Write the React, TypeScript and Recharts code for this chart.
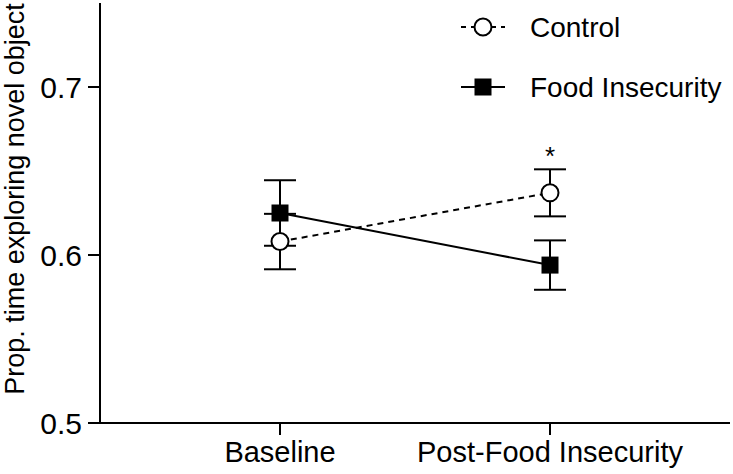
import React from "react";
import {
  LineChart,
  Line,
  XAxis,
  YAxis,
  ErrorBar,
  LabelList,
  Label,
} from "recharts";

// values
const categories = ["Baseline", "Post-Food Insecurity"];
const controlMean = [0.608, 0.637];
const controlSem = [0.0165, 0.014];
const foodMean = [0.625, 0.594];
const foodSem = [0.0195, 0.0147];
const significance = ["", "*"];
const yTicks = [0.5, 0.6, 0.7];

const FONT = "'Liberation Sans', Arial, Helvetica, sans-serif";

const data = categories.map((name, i) => ({
  name,
  control: controlMean[i],
  controlErr: controlSem[i],
  food: foodMean[i],
  foodErr: foodSem[i],
  sig: significance[i],
}));

const CircleDot = (props: any) => {
  const { cx, cy, index } = props;
  if (cx == null || cy == null) return null;
  return (
    <circle key={`c-${index}`} cx={cx} cy={cy} r={8.5} fill="#fff" stroke="#000" strokeWidth={2} />
  );
};

const SquareDot = (props: any) => {
  const { cx, cy, index } = props;
  if (cx == null || cy == null) return null;
  return <rect key={`s-${index}`} x={cx - 8.5} y={cy - 8.5} width={17} height={17} fill="#000" />;
};

// legend drawn as an overlay so it doesn't take space from the plot
const ChartLegend = () => (
  <svg
    width={280}
    height={120}
    style={{ position: "absolute", left: 455, top: 0, display: "block" }}
  >
    {/* Control */}
    <line x1={6} y1={27} x2={50} y2={27} stroke="#000" strokeWidth={2} strokeDasharray="5 5" />
    <circle cx={28} cy={27} r={8.5} fill="#fff" stroke="#000" strokeWidth={2} />
    <text x={75} y={27} dy="0.355em" fontSize={28} fontFamily={FONT} fill="#000">
      Control
    </text>
    {/* Food Insecurity */}
    <line x1={6} y1={87} x2={50} y2={87} stroke="#000" strokeWidth={2} />
    <rect x={19.5} y={78.5} width={17} height={17} fill="#000" />
    <text x={75} y={87} dy="0.355em" fontSize={28} fontFamily={FONT} fill="#000">
      Food Insecurity
    </text>
  </svg>
);

const YLabel = (props: any) => {
  const { viewBox } = props;
  const cy = viewBox.y + viewBox.height / 2 - 14;
  return (
    <text
      x={24}
      y={cy}
      transform={`rotate(-90, 24, ${cy})`}
      textAnchor="middle"
      fontSize={27}
      fontFamily={FONT}
      fill="#000"
    >
      Prop. time exploring novel object
    </text>
  );
};

export default function App() {
  return (
    <div style={{ position: "absolute", left: 0, top: 0, width: 733, height: 474, background: "#fff" }}>
      <LineChart
        width={733}
        height={474}
        data={data}
        margin={{ top: 3, right: 3, bottom: 0, left: 0 }}
      >
        <XAxis
          dataKey="name"
          padding={{ left: 180, right: 180 }}
          height={51}
          tickSize={12}
          tickMargin={6}
          stroke="#000"
          strokeWidth={2}
          tick={{ fill: "#000", fontSize: 29, fontFamily: FONT }}
        />
        <YAxis
          domain={[0.5, 0.75]}
          ticks={yTicks}
          width={100}
          tickSize={12}
          tickMargin={6}
          stroke="#000"
          strokeWidth={2}
          tickFormatter={(v: number) => v.toFixed(1)}
          tick={{ fill: "#000", fontSize: 30, fontFamily: FONT }}
        >
          <Label content={<YLabel />} />
        </YAxis>
        <Line
          dataKey="food"
          stroke="#000"
          strokeWidth={2}
          dot={<SquareDot />}
          activeDot={false}
          isAnimationActive={false}
        >
          <ErrorBar dataKey="foodErr" width={16} stroke="#000" strokeWidth={2} direction="y" />
        </Line>
        <Line
          dataKey="control"
          stroke="#000"
          strokeWidth={2}
          strokeDasharray="6 5"
          dot={<CircleDot />}
          activeDot={false}
          isAnimationActive={false}
        >
          <ErrorBar dataKey="controlErr" width={16} stroke="#000" strokeWidth={2} strokeDasharray="0" direction="y" />
          <LabelList
            dataKey="sig"
            position="top"
            offset={28}
            fill="#000"
            fontSize={26}
            fontFamily={FONT}
          />
        </Line>
      </LineChart>
      <ChartLegend />
    </div>
  );
}
